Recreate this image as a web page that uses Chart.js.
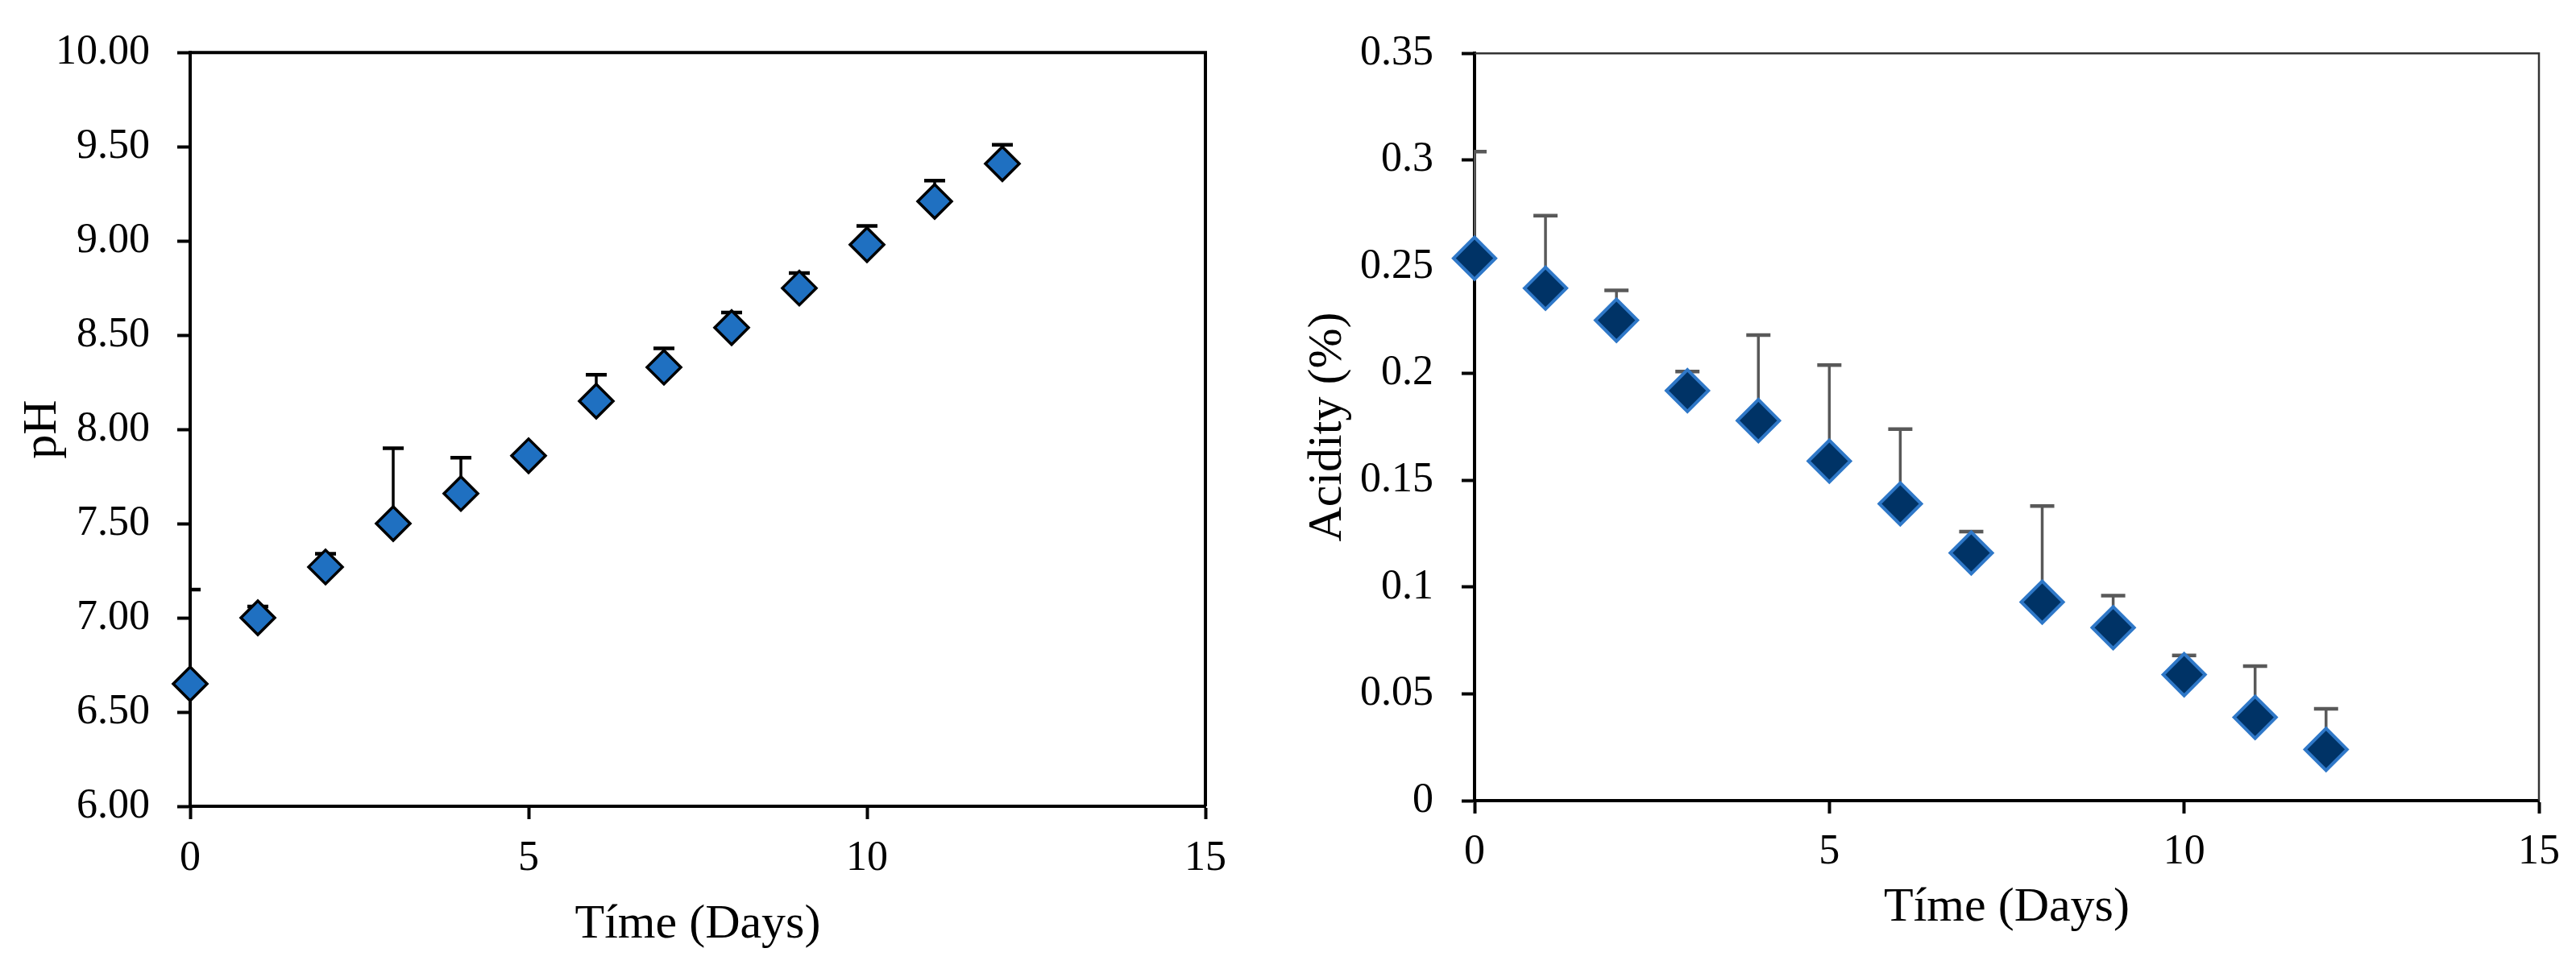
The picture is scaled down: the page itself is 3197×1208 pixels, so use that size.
<!DOCTYPE html>
<html>
<head>
<meta charset="utf-8">
<script src="https://cdn.jsdelivr.net/npm/chart.js@4"></script>
<style>
  body { margin: 0; background: #fff; }
  canvas { position: absolute; top: 0; }
  #phChart { left: 0; }
  #acidChart { left: 1600px; }
</style>
</head>
<body>
<canvas id="phChart" width="1600" height="1208"></canvas>
<canvas id="acidChart" width="1597" height="1208"></canvas>
<script>
// Dados
const days = [0, 1, 2, 3, 4, 5, 6, 7, 8, 9, 10, 11, 12]
const phMean = [6.65, 7.00, 7.27, 7.50, 7.66, 7.86, 8.15, 8.33, 8.54, 8.75, 8.98, 9.21, 9.41]
const phErr = [0.50, 0.06, 0.07, 0.40, 0.19, 0, 0.14, 0.10, 0.08, 0.08, 0.10, 0.11, 0.10]
const acidity = [0.254, 0.240, 0.225, 0.192, 0.178, 0.159, 0.139, 0.116, 0.093, 0.081, 0.059, 0.039, 0.024]
const acidErr = [0.050, 0.034, 0.014, 0.009, 0.040, 0.045, 0.035, 0.010, 0.045, 0.015, 0.009, 0.024, 0.019]
const xTicks = [0, 5, 10, 15]

const serif = 'Liberation Serif'
const tickFont = { family: serif, size: 52 }
const titleFont = { family: serif, size: 60 }

// barras de erro (só para cima), desenhadas atrás dos marcadores
function errorBars(err, color, width, cap) {
  return {
    id: 'errorBars',
    beforeDatasetsDraw(chart) {
      const { ctx, chartArea: a, scales: { x, y } } = chart
      const pts = chart.data.datasets[0].data
      ctx.save()
      ctx.beginPath()
      ctx.rect(a.left - 1, a.top, a.right - a.left + 1, a.bottom - a.top)
      ctx.clip()
      ctx.strokeStyle = color
      ctx.lineWidth = width
      pts.forEach((p, i) => {
        if (!err[i]) return
        const px = x.getPixelForValue(p.x)
        const py = y.getPixelForValue(p.y)
        const pe = y.getPixelForValue(p.y + err[i])
        ctx.beginPath()
        ctx.moveTo(px, py)
        ctx.lineTo(px, pe)
        ctx.stroke()
        ctx.lineWidth = width + 1
        ctx.beginPath()
        ctx.moveTo(px - cap, pe)
        ctx.lineTo(px + cap, pe)
        ctx.stroke()
        ctx.lineWidth = width
      })
      ctx.restore()
    }
  }
}

// moldura de cima e da direita
function frame(color, width) {
  return {
    id: 'frame',
    beforeDatasetsDraw(chart) {
      const { ctx, chartArea: a } = chart
      ctx.save()
      ctx.strokeStyle = color
      ctx.lineWidth = width
      ctx.beginPath()
      ctx.moveTo(a.left, a.top)
      ctx.lineTo(a.right, a.top)
      ctx.lineTo(a.right, a.bottom)
      ctx.stroke()
      ctx.restore()
    }
  }
}

function axisX(height, tickPad, titlePad) {
  return {
    type: 'linear',
    min: 0,
    max: 15,
    afterBuildTicks: (s) => { s.ticks = xTicks.map(v => ({ value: v })) },
    afterFit: (s) => { s.height = height },
    border: { display: true, color: '#000', width: 4 },
    grid: { drawOnChartArea: false, drawTicks: true, tickLength: 16, tickWidth: 4, tickColor: '#000' },
    ticks: { font: tickFont, color: '#000', padding: tickPad, maxRotation: 0 },
    title: { display: true, text: 'Tíme (Days)', font: titleFont, color: '#000', padding: { top: 0, bottom: titlePad } }
  }
}

new Chart(document.getElementById('phChart'), {
  type: 'scatter',
  data: {
    datasets: [{
      data: days.map((d, i) => ({ x: d, y: phMean[i] })),
      pointStyle: 'rectRot',
      pointRadius: 21,
      pointBorderWidth: 3.5,
      backgroundColor: '#1f70c1',
      borderColor: '#000',
      clip: false
    }]
  },
  options: {
    responsive: false,
    animation: false,
    devicePixelRatio: 1,
    events: [],
    layout: { padding: { top: 52, right: 104, bottom: 0, left: 0 } },
    plugins: { legend: { display: false }, tooltip: { enabled: false } },
    scales: {
      x: axisX(207, 18, 24),
      y: {
        min: 6,
        max: 10,
        afterFit: (s) => { s.width = 236 },
        border: { display: true, color: '#000', width: 4 },
        grid: { drawOnChartArea: false, drawTicks: true, tickLength: 16, tickWidth: 4, tickColor: '#000' },
        ticks: { stepSize: 0.5, font: tickFont, color: '#000', padding: 34, callback: v => v.toFixed(2) },
        title: { display: true, text: 'pH', font: titleFont, color: '#000', padding: { top: 17, bottom: 0 } }
      }
    }
  },
  plugins: [frame('#000', 4), errorBars(phErr, '#000', 3.5, 13)]
})

new Chart(document.getElementById('acidChart'), {
  type: 'scatter',
  data: {
    datasets: [{
      data: days.map((d, i) => ({ x: d, y: acidity[i] })),
      pointStyle: 'rectRot',
      pointRadius: 26,
      pointBorderWidth: 4,
      backgroundColor: '#003366',
      borderColor: '#2f78c8',
      clip: false
    }]
  },
  options: {
    responsive: false,
    animation: false,
    devicePixelRatio: 1,
    events: [],
    layout: { padding: { top: 56, right: 46, bottom: 0, left: 0 } },
    plugins: { legend: { display: false }, tooltip: { enabled: false } },
    scales: {
      x: axisX(214, 17, 45),
      y: {
        min: 0,
        max: 0.35,
        afterFit: (s) => { s.width = 230 },
        border: { display: true, color: '#000', width: 4 },
        grid: { drawOnChartArea: false, drawTicks: true, tickLength: 16, tickWidth: 4, tickColor: '#000' },
        ticks: { stepSize: 0.05, font: tickFont, color: '#000', padding: 35, callback: v => String(+v.toFixed(2)) },
        title: { display: true, text: 'Acidity (%)', font: titleFont, color: '#000', padding: { top: 12, bottom: 0 } }
      }
    }
  },
  plugins: [frame('#333', 2.5), errorBars(acidErr, '#595959', 3.5, 15)]
})
</script>
</body>
</html>
